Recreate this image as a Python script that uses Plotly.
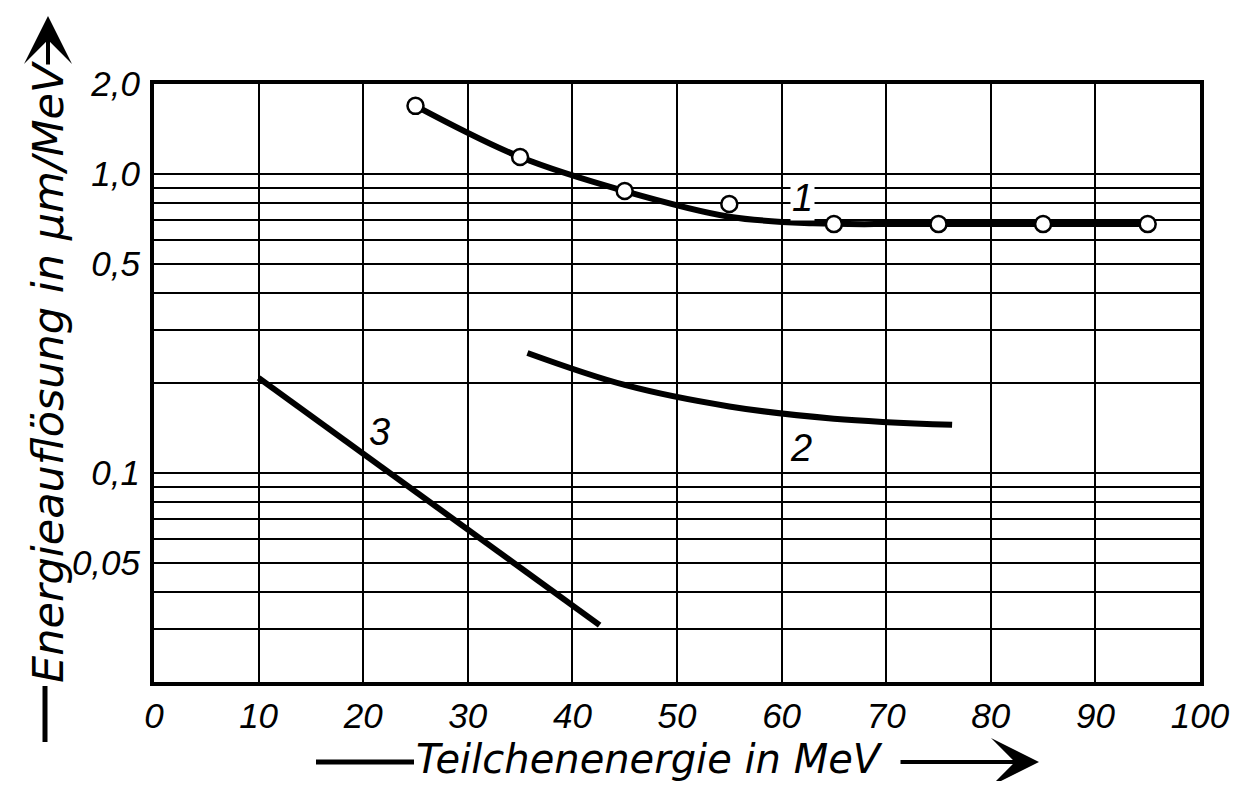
import numpy as np
import plotly.graph_objects as go

# ---- data ----
x_ticks = [0, 10, 20, 30, 40, 50, 60, 70, 80, 90, 100]
y_tick_vals = [0.05, 0.1, 0.5, 1.0, 2.0]
y_tick_text = ["0,05", "0,1", "0,5", "1,0", "2,0"]
y_grid_minor = [0.03, 0.04, 0.06, 0.07, 0.08, 0.09, 0.2, 0.3, 0.4, 0.6, 0.7, 0.8, 0.9]

# curve 1: measured points and fitted curve
e1_pts = [25, 35, 45, 55, 65, 75, 85, 95]
r1_pts = [1.69, 1.14, 0.877, 0.794, 0.68, 0.68, 0.68, 0.68]
e1_line = [25, 35, 45, 55, 63, 72, 95]
r1_line = [1.69, 1.14, 0.877, 0.72, 0.684, 0.68, 0.68]

# curve 2
e2 = [35.7, 45, 55, 65, 76.3]
r2 = [0.252, 0.197, 0.167, 0.152, 0.145]

# curve 3
e3 = [10, 42.6]
r3 = [0.208, 0.031]

labels = ["1", "2", "3"]
label_x = [62.0, 61.9, 21.6]
label_y = [0.831, 0.121, 0.137]

TFONT = "DejaVu Sans"
NFONT = "Liberation Sans"
OFF = 8  # default body margin of the page
W, H = 1256 - 2 * OFF, 789 - 2 * OFF
L, T = 154 - OFF, 84 - OFF
PW, PH = 1046, 598
R, B = W - L - PW, H - T - PH


def px(xr):  # reference-pixel x -> paper
    return (xr - 154) / PW


def py(yr):  # reference-pixel y -> paper
    return (682 - yr) / PH


fig = go.Figure()
fig.add_trace(go.Scatter(x=e1_line, y=r1_line, mode="lines",
                         line=dict(color="black", width=6, shape="spline", smoothing=1.0), showlegend=False))
fig.add_trace(go.Scatter(x=e1_pts, y=r1_pts, mode="markers",
                         marker=dict(symbol="circle", size=16, color="white", line=dict(color="black", width=2.5)),
                         showlegend=False))
fig.add_trace(go.Scatter(x=e2, y=r2, mode="lines",
                         line=dict(color="black", width=6, shape="spline", smoothing=1.0), showlegend=False))
fig.add_trace(go.Scatter(x=e3, y=r3, mode="lines", line=dict(color="black", width=6), showlegend=False))

for i, (t, lx, ly) in enumerate(zip(labels, label_x, label_y)):
    fig.add_annotation(x=lx, y=np.log10(ly), xref="x", yref="y", text=t, showarrow=False,
                       font=dict(family=NFONT, size=38, color="black", style="italic"),
                       bgcolor="white" if i == 0 else "rgba(0,0,0,0)", borderpad=1)

# axis titles with lead lines and arrows
fig.add_annotation(x=px(414), y=py(759), xref="paper", yref="paper", xanchor="left", yanchor="middle",
                   text="Teilchenenergie in MeV", showarrow=False,
                   font=dict(family=TFONT, size=40, color="black", style="italic"))
fig.add_shape(type="line", xref="paper", yref="paper", x0=px(316), x1=px(414), y0=py(762), y1=py(762),
              line=dict(color="black", width=5))
fig.add_annotation(x=px(1039), y=py(762), xref="paper", yref="paper", ax=-140, ay=0, text="",
                   showarrow=True, arrowhead=3, arrowwidth=4, arrowsize=2.0, arrowcolor="black")

fig.add_annotation(x=px(48), y=py(372), xref="paper", yref="paper", xanchor="center", yanchor="middle",
                   text="Energieauflösung in µm/MeV", textangle=-90, showarrow=False,
                   font=dict(family=TFONT, size=43, color="black", style="italic"))
fig.add_shape(type="line", xref="paper", yref="paper", x0=px(45), x1=px(45), y0=py(742), y1=py(686),
              line=dict(color="black", width=5))
fig.add_annotation(x=px(48), y=py(16), xref="paper", yref="paper", ax=0, ay=50, text="",
                   showarrow=True, arrowhead=3, arrowwidth=4, arrowsize=2.0, arrowcolor="black")

fig.update_xaxes(range=[0, 100], tickvals=x_ticks, ticktext=[str(v) for v in x_ticks],
                 showgrid=True, gridcolor="black", gridwidth=2, zeroline=False,
                 showline=True, mirror=True, linecolor="black", linewidth=4, ticks="",
                 ticklabelstandoff=0,
                 tickfont=dict(family=NFONT, size=35, color="black", style="italic"))
fig.update_yaxes(type="log", range=[np.log10(0.02), np.log10(2.0)], tickvals=y_tick_vals, ticktext=y_tick_text,
                 showgrid=True, gridcolor="black", gridwidth=2, zeroline=False,
                 showline=True, mirror=True, linecolor="black", linewidth=4, ticks="",
                 ticklabelstandoff=3,
                 minor=dict(tickvals=y_grid_minor, showgrid=True, gridcolor="black", gridwidth=2, ticks=""),
                 tickfont=dict(family=NFONT, size=35, color="black", style="italic"))

fig.update_layout(width=W, height=H, margin=dict(l=L, r=R, t=T, b=B, pad=0),
                  plot_bgcolor="white", paper_bgcolor="white", showlegend=False)

fig.write_html("out.html")
